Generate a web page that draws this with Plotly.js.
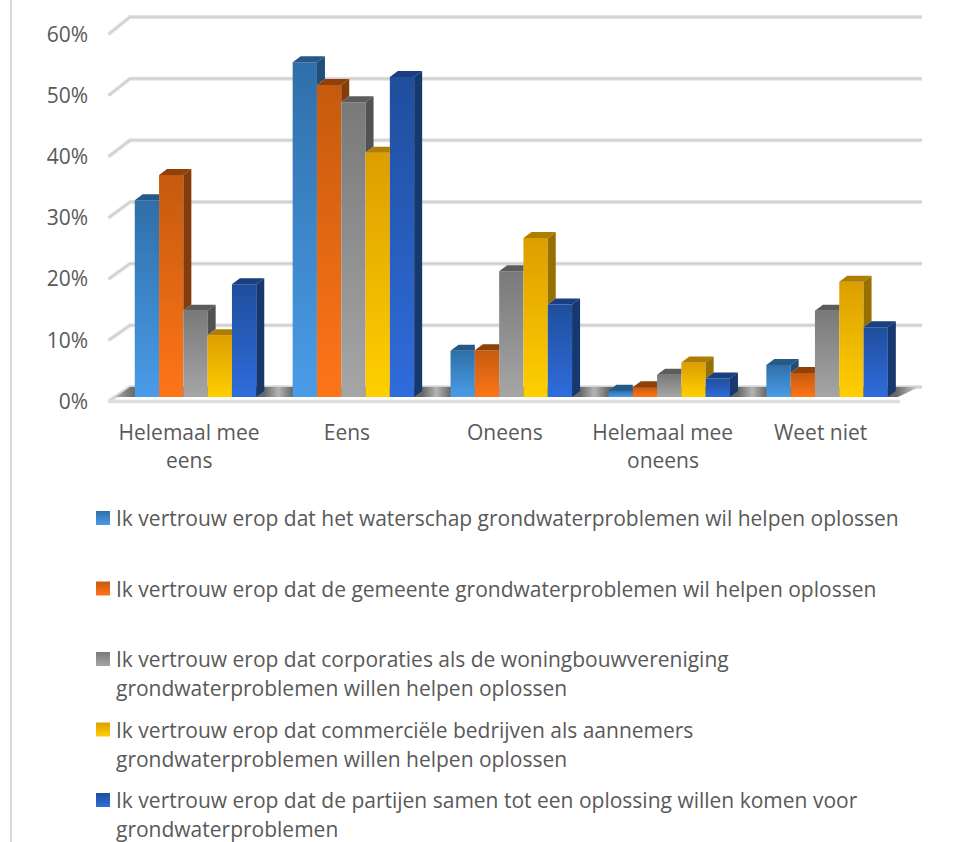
<!DOCTYPE html>
<html lang="nl">
<head>
<meta charset="utf-8">
<title>Vertrouwen in partijen bij grondwaterproblemen</title>
<script src="https://cdn.plot.ly/plotly-3.0.1.min.js"></script>
<style>html,body{margin:0;padding:0;background:#fff}#chart{width:962px;height:842px}</style>
</head>
<body>
<div id="chart"></div>
<script>
// Answer categories, each split over the lines of its axis label
const categoryLines = [["Helemaal mee", "eens"], ["Eens"], ["Oneens"], ["Helemaal mee", "oneens"], ["Weet niet"]];

// Share of respondents per answer, in percent
const waterschap = [31.9, 54.3, 7.5, 1.0, 5.2];
const gemeente = [36.0, 50.6, 7.6, 1.6, 3.9];
const corporaties = [14.0, 47.8, 20.4, 3.6, 14.0];
const bedrijven = [10.0, 39.6, 25.8, 5.6, 18.7];
const partijen = [18.3, 51.9, 15.0, 3.0, 11.3];

const yTicks = [0, 10, 20, 30, 40, 50, 60];

const legendLines = [
  ["Ik vertrouw erop dat het waterschap grondwaterproblemen wil helpen oplossen"],
  ["Ik vertrouw erop dat de gemeente grondwaterproblemen wil helpen oplossen"],
  ["Ik vertrouw erop dat corporaties als de woningbouwvereniging", "grondwaterproblemen willen helpen oplossen"],
  ["Ik vertrouw erop dat commerciële bedrijven als aannemers", "grondwaterproblemen willen helpen oplossen"],
  ["Ik vertrouw erop dat de partijen samen tot een oplossing willen komen voor", "grondwaterproblemen"]
];

const seriesValues = [waterschap, gemeente, corporaties, bedrijven, partijen];

// Face colours: gradient of the front (dark to light), top face, side face
const frontTop = ["#2f6fa9", "#c55a0e", "#797979", "#dc9e00", "#1f4e9c"];
const frontBottom = ["#4a9ce8", "#ff7518", "#a6a6a6", "#ffcf00", "#2f6cdc"];
const topFace = ["#255a88", "#8f4208", "#5c5c5c", "#ad7e00", "#1a3f80"];
const sideFace = ["#214f78", "#843c0c", "#525252", "#967000", "#17386f"];

// Pixel frame of the plotting area
const W = 962, H = 842;
const plotL = 100, plotR = 930, plotT = 5, plotB = 418;
const catStep = 157.9;
const labelStep = 6.12, wallCat0 = 189, wallZero = 401.5;  // front edge of the walls: labels hang here
const pctStep = 6.167, barCat0 = 195.5, barZero = 397;     // the bars stand further back on the floor
const backZero = 387;                                      // foot of the back wall

const barW = 24.3 / catStep;
const groupW = barW * seriesValues.length;
const depthX = 8 / catStep, depthY = 6 / pctStep;

const paperX = px => (px - plotL) / (plotR - plotL);
const paperY = py => (plotB - py) / (plotB - plotT);
const wallCat = px => (px - wallCat0) / catStep;
const wallPct = py => (wallZero - py) / labelStep;
const backPct = v => wallPct(backZero - v * pctStep);

const traces = [];
const none = {hoverinfo: "skip", showlegend: false};

// Back-wall gridlines with the short diagonal running to each axis label
function wallLines(color, width) {
  const xs = [], ys = [];
  yTicks.forEach(v => {
    xs.push(wallCat(108.5), wallCat(130), wallCat(922), null);
    ys.push(v, backPct(v), backPct(v), null);
  });
  return {x: xs, y: ys, mode: "lines", line: {color: color, width: width}, ...none};
}
traces.push(wallLines("#e3e3e3", 4), wallLines("#cfcfcf", 1.6));

// Floor: shadow band on the back part and the slab edge in front
traces.push({
  x: [wallCat(130), wallCat(919), wallCat(898), wallCat(116), wallCat(130)],
  y: [backPct(0), backPct(0), wallPct(397), wallPct(397), backPct(0)],
  mode: "lines", fill: "toself", fillcolor: "#8a8a8a", line: {width: 0}, ...none
});
traces.push({
  x: [wallCat(108.5), wallCat(900)], y: [0, 0], mode: "lines",
  line: {color: "#dedede", width: 3.5}, ...none
});

// Front faces of the bars
seriesValues.forEach((vals, s) => {
  traces.push({
    type: "bar", name: legendLines[s].join(" "), x: vals.map((_, c) => c), y: vals,
    marker: {color: frontBottom[s], line: {width: 0}},
    xaxis: "x2", yaxis: "y2", hoverinfo: "y", showlegend: false
  });
});

// Top and side faces, projected from the same values; parts hidden
// behind the neighbouring bar are left out
seriesValues.forEach((vals, s) => {
  const tx = [], ty = [], sx = [], sy = [];
  vals.forEach((v, c) => {
    const x0 = c - groupW / 2 + s * barW, x1 = x0 + barW;
    const next = s + 1 < seriesValues.length ? seriesValues[s + 1][c] : 0;
    const topEnd = next >= v ? x1 : x1 + depthX;
    tx.push(x0, x0 + depthX, topEnd, x1, x0, null);
    ty.push(v, v + depthY, v + depthY, v, v, null);
    if (next < v) {
      sx.push(x1, x1 + depthX, x1 + depthX, x1, x1, null);
      sy.push(v, v + depthY, next + depthY, next, v, null);
    }
  });
  const face = (x, y, color) => ({
    x, y, xaxis: "x2", yaxis: "y2", mode: "lines", fill: "toself",
    fillcolor: color, line: {width: 0}, ...none
  });
  traces.push(face(tx, ty, topFace[s]), face(sx, sy, sideFace[s]));
});

// Second lines of the category labels and the legend text
const labelFont = {family: "'Open Sans', sans-serif", size: 21, color: "#595959"};
const annotations = [];
categoryLines.forEach((lines, c) => {
  if (lines[1]) annotations.push({
    text: lines[1], xref: "x", x: c, yref: "paper", y: paperY(460),
    showarrow: false, font: labelFont, xanchor: "center", yanchor: "middle"
  });
});
const legendX = 114, legendY = 518, legendStep = 70.5, legendLeading = 29;
legendLines.forEach((lines, i) => {
  lines.forEach((line, k) => annotations.push({
    text: line, xref: "paper", x: paperX(legendX), yref: "paper",
    y: paperY(legendY + i * legendStep + k * legendLeading),
    showarrow: false, font: labelFont, xanchor: "left", yanchor: "middle"
  }));
});

// Thin rule along the left edge and the legend swatches
const shapes = [{
  type: "line", xref: "paper", yref: "paper",
  x0: paperX(11), x1: paperX(11), y0: paperY(0), y1: paperY(H),
  line: {color: "#d9d9d9", width: 2}
}];
legendLines.forEach((_, i) => {
  const cy = legendY + i * legendStep;
  shapes.push({
    type: "rect", xref: "paper", yref: "paper",
    x0: paperX(96), x1: paperX(110), y0: paperY(cy - 7), y1: paperY(cy + 7),
    fillcolor: frontBottom[i], line: {width: 0}
  });
});

const layout = {
  width: W, height: H, autosize: false,
  margin: {l: plotL, r: W - plotR, t: plotT, b: H - plotB, pad: 0},
  paper_bgcolor: "#fff", plot_bgcolor: "rgba(0,0,0,0)",
  showlegend: false, barmode: "group", bargap: 1 - groupW, bargroupgap: 0,
  font: labelFont, hovermode: "closest",
  xaxis: {
    range: [wallCat(plotL), wallCat(plotR)], showgrid: false, zeroline: false, showline: false,
    tickmode: "array", tickvals: categoryLines.map((_, c) => c),
    ticktext: categoryLines.map(l => l[0]), ticks: "", tickfont: labelFont, fixedrange: true
  },
  yaxis: {
    range: [wallPct(plotB), wallPct(plotT)], showgrid: false, zeroline: false, showline: false,
    tickmode: "array", tickvals: yTicks, ticktext: yTicks.map(v => v + "%"),
    ticks: "", tickfont: labelFont, ticklabelstandoff: 11, fixedrange: true
  },
  xaxis2: {
    overlaying: "x", visible: false, fixedrange: true,
    range: [(plotL - barCat0) / catStep, (plotR - barCat0) / catStep]
  },
  yaxis2: {
    overlaying: "y", visible: false, fixedrange: true,
    range: [(barZero - plotB) / pctStep, (barZero - plotT) / pctStep]
  },
  annotations, shapes
};

const svgNS = "http://www.w3.org/2000/svg";
function addGradient(defs, id, attrs, stops) {
  const g = document.createElementNS(svgNS, "linearGradient");
  g.setAttribute("id", id);
  Object.entries(attrs).forEach(([k, v]) => g.setAttribute(k, v));
  stops.forEach(([offset, color]) => {
    const st = document.createElementNS(svgNS, "stop");
    st.setAttribute("offset", offset);
    st.setAttribute("stop-color", color);
    g.appendChild(st);
  });
  defs.appendChild(g);
}

const gd = document.getElementById("chart");
Plotly.newPlot(gd, traces, layout, {displayModeBar: false, responsive: false}).then(() => {
  const svg = gd.querySelector("svg.main-svg");
  const defs = svg.querySelector("defs") || svg.insertBefore(document.createElementNS(svgNS, "defs"), svg.firstChild);
  const vertical = {x1: 0, y1: 0, x2: 0, y2: 1};

  // Vertical gradients on the front faces and on the swatches
  seriesValues.forEach((_, s) => {
    addGradient(defs, "front" + s, vertical, [[0, frontTop[s]], [1, frontBottom[s]]]);
    addGradient(defs, "swatch" + s, vertical, [[0, frontTop[s]], [1, frontBottom[s]]]);
  });
  gd.querySelectorAll(".barlayer .trace").forEach((tr, s) => {
    tr.querySelectorAll("path").forEach(p => { p.style.fill = "url(#front" + s + ")"; });
  });
  gd.querySelectorAll(".shapelayer path[data-index]").forEach(p => {
    const k = +p.getAttribute("data-index");
    if (k > 0) p.style.fill = "url(#swatch" + (k - 1) + ")";
  });

  // Floor shadow: dark next to each group of bars, lighter in the gaps between
  const floorL = 116, floorR = 919, floorStops = [];
  const off = px => Math.min(1, Math.max(0, (px - floorL) / (floorR - floorL)));
  categoryLines.forEach((_, c) => {
    const mid = barCat0 + c * catStep;
    const halfGroup = groupW * catStep / 2;
    floorStops.push([off(mid - halfGroup), "#676767"], [off(mid + halfGroup + 8), "#676767"]);
    if (c < categoryLines.length - 1) floorStops.push([off(mid + catStep / 2 + 4), "#b4b4b4"]);
  });
  addGradient(defs, "floorShade", {x1: 0, y1: 0, x2: 1, y2: 0},
    [[0, "#a5a5a5"], ...floorStops, [1, "#d5d5d5"]]);
  const floorFill = gd.querySelector(".scatterlayer .trace .js-fill");
  if (floorFill) floorFill.style.fill = "url(#floorShade)";
});
</script>
</body>
</html>
